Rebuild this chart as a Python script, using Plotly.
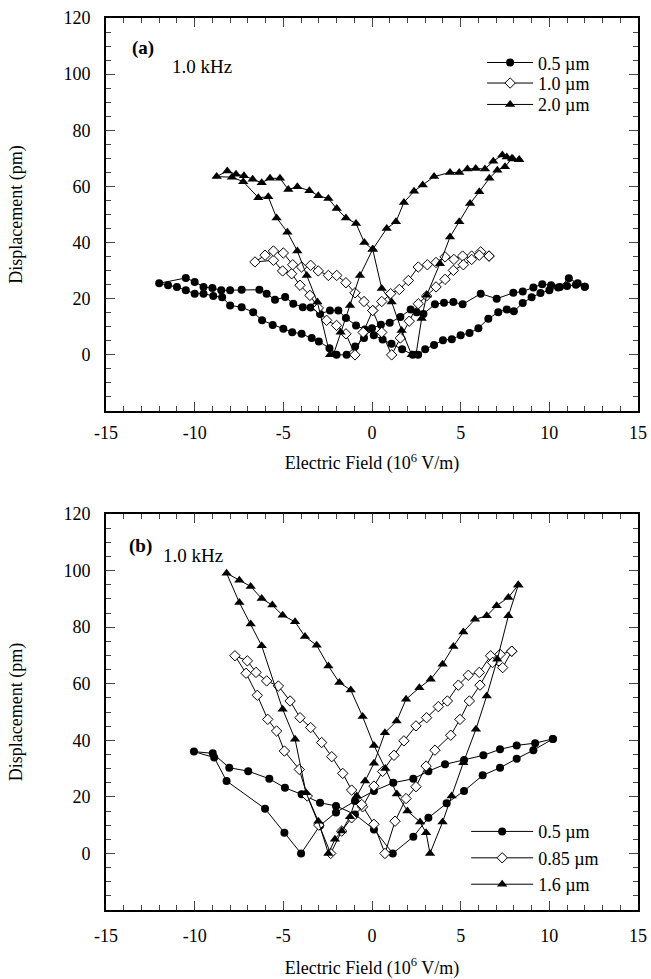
import plotly.graph_objs as go

# ---- panel (a): 1.0 kHz, film thickness series ----
a_05_x = [12.0, 11.6, 11.1, 10.6, 10.1, 9.6, 9.1, 8.5, 7.97, 7.03, 6.13, 5.11, 4.59, 4.06, 3.55, 2.9, 2.52, 2.18,
          1.6, 1.0, 0.5, 0.0, -0.45, -0.95, -1.43, -2.0, -2.4, -3.0, -3.4, -3.97, -4.5, -5.0, -5.6, -6.2, -6.7,
          -7.35, -8.0, -8.45, -8.95, -9.5, -10.0, -10.5, -11.0, -11.5, -12.0,
          -10.5, -10.0, -9.5, -9.0, -8.5, -8.0, -7.35, -6.35, -5.94, -5.47, -4.9, -4.44, -3.9, -3.46, -2.93, -2.37,
          -1.9, -1.47, -0.9, -0.4, 0.1, 0.6, 1.1, 1.7, 2.3, 2.6, 3.0, 3.5, 4.0, 4.5, 5.0, 5.5, 6.0, 6.56, 7.12,
          7.6, 8.0, 8.5, 9.0, 9.5, 10.0, 10.5, 11.0, 11.5, 12.0]
a_05_y = [24.3, 25.5, 27.3, 24.2, 24.8, 25.2, 24.0, 22.6, 22.1, 20.0, 21.8, 18.0, 18.8, 18.6, 18.0, 14.6, 15.2, 16.2,
          13.5, 11.4, 10.7, 9.5, 6.0, 3.0, 0.0, 0.0, 2.4, 4.8, 6.0, 7.5, 8.1, 9.3, 10.6, 12.3, 15.2,
          17.0, 17.6, 20.5, 21.0, 21.8, 21.8, 23.0, 24.2, 24.8, 25.5,
          27.4, 26.0, 24.2, 23.8, 23.0, 23.0, 23.2, 23.2, 21.8, 19.6, 20.6, 18.2, 17.0, 16.9, 14.6, 15.8,
          15.8, 13.1, 10.5, 9.0, 7.0, 5.5, 4.0, 2.0, 0.0, 0.0, 2.0, 3.5, 5.2, 5.6, 7.0, 7.8, 9.5, 12.9, 15.2,
          16.2, 15.5, 18.5, 20.5, 22.0, 23.0, 24.0, 24.5, 25.0, 24.3]

a_10_x = [6.6, 6.13, 5.62, 5.11, 4.62, 4.12, 3.61, 3.12, 2.61, 2.05, 1.54, 1.05, 0.55, 0.04, -0.5, -0.96,
          -1.47, -2.0, -2.56, -3.03, -3.5, -4.06, -4.53, -5.04, -5.56, -6.6,
          -6.03, -5.56, -5.0, -4.47, -3.97, -3.46, -3.03, -2.46, -1.99, -1.47, -0.96, -0.45, 0.04, 0.55, 1.11,
          1.6, 2.1, 2.61, 3.08, 3.61, 4.12, 4.59, 5.15, 5.62, 6.05, 6.6]
a_10_y = [35.2, 36.7, 35.2, 35.2, 34.0, 34.9, 32.9, 32.1, 31.3, 26.5, 23.3, 21.8, 19.0, 15.8, 8.0, 0.0,
          7.5, 10.5, 12.3, 16.7, 21.2, 24.8, 28.9, 29.9, 33.7, 33.1,
          35.5, 37.0, 36.3, 32.1, 31.3, 31.9, 29.9, 28.3, 28.3, 25.7, 22.1, 19.0, 15.8, 8.0, 0.0,
          6.0, 12.0, 18.2, 21.0, 24.2, 26.9, 30.1, 32.1, 34.0, 35.5, 35.2]

a_20_x = [8.3, 7.95, 7.6, 7.35, 6.84, 6.37, 5.85, 5.38, 4.92, 4.4, 3.5, 2.86, 2.37, 1.8, 1.35, 0.83, 0.04,
          -0.68, -1.24, -1.77, -2.18, -2.37, -3.08, -3.68, -4.21, -4.77, -5.38, -5.85, -6.41, -7.26, -7.9, -8.76,
          -8.16, -7.67, -7.22, -6.73, -6.22, -5.75, -5.19, -4.72, -4.21, -3.53, -3.03, -2.46, -1.99, -1.47, -0.9,
          -0.43, 0.04, 0.55, 1.11, 1.67, 2.24, 2.48, 2.8, 3.08, 3.83, 4.4, 4.92, 5.53, 6.05, 6.62, 7.07, 7.5,
          7.89, 8.3]
a_20_y = [69.5, 69.8, 70.5, 71.2, 69.0, 66.2, 66.4, 66.2, 65.0, 65.0, 63.5, 60.5, 58.3, 54.3, 47.4, 45.0, 37.6,
          28.3, 17.6, 8.1, 0.0, 0.0, 18.8, 28.3, 37.0, 43.7, 48.8, 56.3, 56.0, 61.7, 63.3, 63.5,
          65.5, 64.3, 63.8, 62.6, 61.3, 62.9, 62.9, 58.9, 59.9, 58.5, 56.7, 55.7, 52.1, 48.8, 46.8,
          40.0, 37.6, 23.6, 18.8, 8.7, 0.0, 0.0, 13.0, 21.2, 32.5, 42.0, 47.4, 53.9, 58.1, 62.9, 65.8, 67.0,
          70.0, 69.5]

# ---- panel (b) ----
b_05_x = [10.2, 9.2, 8.16, 7.22, 6.28, 5.19, 4.12, 3.18, 2.33, 1.2, 0.11, -0.96, -2.03, -2.93, -4.0, -4.94,
          -6.03, -8.2, -8.9, -10.04,
          -8.98, -8.05, -6.98, -5.79, -4.91, -3.97, -2.93, -2.03, -0.96, 0.11, 1.17, 2.33, 3.18, 4.21, 5.19,
          6.24, 7.22, 8.16, 9.1, 10.2]
b_05_y = [40.5, 39.0, 38.2, 36.8, 34.7, 33.0, 31.5, 29.1, 26.4, 25.0, 22.1, 18.5, 14.5, 9.9, 0.0, 7.3,
          15.8, 25.6, 33.9, 36.0,
          35.4, 30.3, 29.1, 26.4, 23.2, 20.9, 17.9, 16.8, 13.8, 8.5, 0.0, 5.9, 12.6, 17.7, 22.1,
          27.6, 30.3, 33.5, 36.5, 40.5]

b_085_x = [7.88, 7.22, 6.69, 6.05, 5.43, 4.87, 4.25, 3.74, 3.08, 2.48, 1.8, 1.24, 0.6, 0.11, -0.53, -1.15,
           -1.71, -2.33, -3.0, -3.65, -4.1, -4.94, -5.38, -5.88, -6.47, -7.1, -7.73,
           -7.03, -6.54, -5.94, -5.28, -4.62, -4.06, -3.46, -2.84, -2.27, -1.65, -1.15, -0.58, 0.11, 0.73,
           1.3, 1.92, 2.48, 3.05, 3.55, 4.44, 4.96, 5.49, 6.09, 6.8, 7.37, 7.88]
b_085_y = [71.5, 70.4, 69.9, 64.0, 63.0, 59.5, 53.9, 51.9, 48.0, 45.1, 39.8, 34.7, 29.0, 23.8, 16.5, 12.6,
           7.9, 0.0, 10.0, 20.3, 29.7, 36.2, 43.3, 47.4, 55.9, 63.7, 69.9,
           68.1, 64.0, 61.0, 59.2, 53.9, 48.0, 44.5, 39.2, 34.2, 28.3, 22.4, 17.3, 10.3, 0.0,
           11.4, 19.4, 23.6, 30.9, 36.5, 41.8, 47.4, 53.9, 59.5, 67.5, 65.7, 71.5]

b_16_x = [8.25, 7.69, 7.03, 6.47, 5.81, 5.15, 4.59, 3.98, 3.31, 2.67, 1.92, 1.39, 0.73, 0.11, -0.39, -0.86,
          -1.24, -1.71, -2.09, -2.46, -3.03, -3.72, -4.34, -5.04, -6.22, -6.84, -7.48, -8.2,
          -7.48, -6.84, -6.22, -5.62, -5.04, -4.34, -3.78, -3.12, -2.46, -1.84, -1.2, -0.53, 0.11, 0.75, 1.4,
          2.0, 2.71, 3.05, 3.27, 3.98, 4.49, 5.15, 5.86, 6.47, 7.07, 7.69, 8.25]
b_16_y = [94.9, 90.5, 87.6, 84.0, 82.8, 78.3, 73.2, 66.9, 61.6, 58.6, 54.5, 46.8, 42.7, 31.9, 25.6, 20.3,
          13.0, 7.9, 5.0, 0.0, 11.4, 21.5, 40.4, 51.0, 73.4, 81.1, 88.7, 99.1,
          96.6, 94.4, 90.1, 87.8, 84.2, 81.9, 76.7, 73.6, 66.3, 60.4, 57.8, 48.4, 38.2, 30.0, 21.0,
          15.0, 11.1, 7.3, 0.0, 11.1, 20.3, 32.1, 43.9, 55.7, 68.7, 84.0, 94.9]

# tick labels (plain hyphen minus, as in the scan)
x_ticks = [-15, -10, -5, 0, 5, 10, 15]
x_ticktext = ["-15", "-10", "-5", "0", "5", "10", "15"]
y_ticks = [0, 20, 40, 60, 80, 100, 120]

FONT = "Liberation Serif"

filled_circle = dict(symbol="circle", size=8, color="black")
open_diamond = dict(symbol="diamond", size=8, color="white", line=dict(color="black", width=1))
filled_triangle = dict(symbol="triangle-up", size=9, color="black")


def series(x, y, name, marker, xa, ya, legend):
    return go.Scatter(x=x, y=y, name=name, mode="lines+markers",
                      line=dict(color="black", width=1), marker=marker,
                      xaxis=xa, yaxis=ya, legend=legend)


# panel (a) legend rows are tighter than plotly's default spacing,
# so each entry gets its own legend box
data = [
    series(a_05_x, a_05_y, "0.5 µm", filled_circle, "x", "y", "legend"),
    series(a_10_x, a_10_y, "1.0 µm", open_diamond, "x", "y", "legend3"),
    series(a_20_x, a_20_y, "2.0 µm", filled_triangle, "x", "y", "legend4"),
    series(b_05_x, b_05_y, "0.5 µm", filled_circle, "x2", "y2", "legend2"),
    series(b_085_x, b_085_y, "0.85 µm", open_diamond, "x2", "y2", "legend2"),
    series(b_16_x, b_16_y, "1.6 µm", filled_triangle, "x2", "y2", "legend2"),
]

x_title = "Electric Field (10<sup>6</sup> V/m)"


def xaxis(anchor, label_gap, title_gap):
    return dict(range=[-15, 15], tickvals=x_ticks, ticktext=x_ticktext,
                ticks="inside", ticklen=9, tickwidth=1,
                minor=dict(dtick=1, tick0=0, ticks="inside", ticklen=5, tickwidth=1),
                showline=True, linecolor="black", linewidth=2, mirror="ticks",
                showgrid=False, zeroline=False, anchor=anchor, automargin=False,
                ticklabelstandoff=label_gap, tickfont=dict(size=18),
                title=dict(text=x_title, standoff=title_gap, font=dict(size=18)))


def yaxis(anchor, domain):
    return dict(range=[-20, 120], tickvals=y_ticks, ticks="inside",
                ticklen=9, tickwidth=1,
                minor=dict(dtick=5, tick0=0, ticks="inside", ticklen=5, tickwidth=1),
                showline=True, linecolor="black", linewidth=2, mirror="ticks",
                showgrid=False, zeroline=False, anchor=anchor, domain=domain, automargin=False,
                ticklabelstandoff=10, tickfont=dict(size=18),
                title=dict(text="Displacement (pm)", standoff=36, font=dict(size=18)))


legend_style = dict(font=dict(family=FONT, size=18, color="black"), bgcolor="rgba(0,0,0,0)",
                    tracegroupgap=0, xanchor="left", yanchor="top")

layout = go.Layout(
    width=651, height=979, autosize=False,
    margin=dict(l=106, r=13, t=18, b=69),
    paper_bgcolor="white", plot_bgcolor="white",
    font=dict(family=FONT, size=18, color="black"),
    showlegend=True,
    xaxis=xaxis("y", 4, 15),
    yaxis=yaxis("x", [0.5594, 1.0]),
    xaxis2=xaxis("y2", 8, 17),
    yaxis2=yaxis("x2", [0.0, 0.4439]),
    legend=dict(x=0.707, y=0.9705, itemwidth=46, **legend_style),
    legend3=dict(x=0.707, y=0.9475, itemwidth=46, **legend_style),
    legend4=dict(x=0.707, y=0.9235, itemwidth=46, **legend_style),
    legend2=dict(x=0.677, y=0.1085, itemwidth=62, **legend_style),
    annotations=[
        dict(text="<b>(a)</b>", x=0.045, y=0.966, xref="paper", yref="paper",
             showarrow=False, xanchor="left", yanchor="middle", font=dict(size=19)),
        dict(text="1.0 kHz", x=0.12, y=0.946, xref="paper", yref="paper",
             showarrow=False, xanchor="left", yanchor="middle", font=dict(size=19)),
        dict(text="<b>(b)</b>", x=0.039, y=0.408, xref="paper", yref="paper",
             showarrow=False, xanchor="left", yanchor="middle", font=dict(size=19)),
        dict(text="1.0 kHz", x=0.104, y=0.397, xref="paper", yref="paper",
             showarrow=False, xanchor="left", yanchor="middle", font=dict(size=19)),
    ],
)

fig = go.Figure(data=data, layout=layout)
# drop the default body margin so the figure sits at the page origin
fig.write_html("out.html",
               config={"responsive": False, "displayModeBar": False},
               post_script="document.body.style.margin='0px';document.body.style.overflow='hidden';")
